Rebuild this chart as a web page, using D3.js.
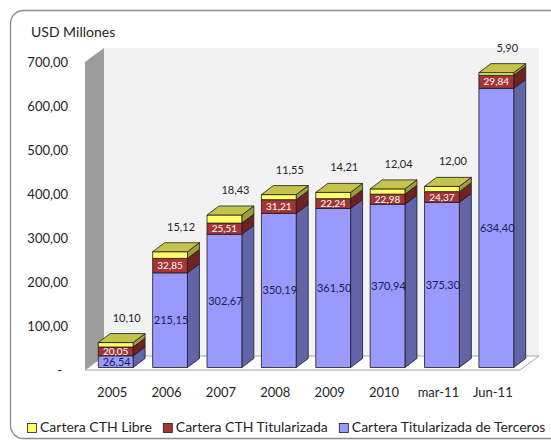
<!DOCTYPE html>
<html>
<head>
<meta charset="utf-8">
<script src="https://cdn.jsdelivr.net/npm/d3@7"></script>
<style>
  body { margin: 0; background: #fff; }
  text { font-family: Lato, "Open Sans", sans-serif; fill: #262626; }
</style>
</head>
<body>
<div id="chart"></div>
<script>
var categories = ["2005", "2006", "2007", "2008", "2009", "2010", "mar-11", "Jun-11"];
var terceros = [26.54, 215.15, 302.67, 350.19, 361.50, 370.94, 375.30, 634.40];
var titularizada = [20.05, 32.85, 25.51, 31.21, 22.24, 22.98, 24.37, 29.84];
var libre = [10.10, 15.12, 18.43, 11.55, 14.21, 12.04, 12.00, 5.90];
var yTicks = [0, 100, 200, 300, 400, 500, 600, 700];
var seriesNames = ["Cartera CTH Libre", "Cartera CTH Titularizada", "Cartera Titularizada de Terceros"];

function main() {
    var width = 551,
      height = 440;

    // 3d look: floor depth and bar depth
    var D = {x: 19, y: -14},
      d = {x: 12, y: -9},
      off = {x: (D.x - d.x) / 2, y: (D.y - d.y) / 2};

    var locale = d3.formatLocale({decimal: ",", thousands: ".", grouping: [3], currency: ["", ""]});
    var fmt = locale.format(".2f");

    var x = d3.scaleBand().domain(categories).range([85, 520]).paddingInner(0.36).paddingOuter(0.18);
    var y = d3.scaleLinear().domain([0, 700]).range([370, 62]);

    var svg = d3.select("#chart").append("svg").attr("width", width).attr("height", height);

    // outer frame
    svg.append("rect").attr("x", 10.5).attr("y", 10.5).attr("width", 580).attr("height", 428)
      .attr("rx", 13).attr("fill", "#fff").attr("stroke", "#8c8c8c").attr("stroke-width", 1.3);

    svg.append("text").attr("x", 31).attr("y", 37).attr("font-size", 14).text("USD Millones");

    // walls
    var y0 = y(0), yTop = y(700), xl = x.range()[0], xr = x.range()[1];
    svg.append("rect").attr("x", xl + D.x).attr("y", yTop + D.y).attr("width", xr - xl)
      .attr("height", y0 - yTop).attr("fill", "#f2f2f2");
    svg.append("path").attr("fill", "#9c9c9c")
      .attr("d", "M" + xl + "," + y0 + "L" + xl + "," + yTop + "L" + (xl + D.x) + "," + (yTop + D.y) +
        "L" + (xl + D.x) + "," + (y0 + D.y) + "Z");
    svg.append("path").attr("fill", "#fff").attr("stroke", "#a6a6a6").attr("stroke-width", 1)
      .attr("d", "M" + xl + "," + y0 + "L" + (xl + D.x) + "," + (y0 + D.y) + "L" + (xr + D.x) + "," + (y0 + D.y) +
        "L" + xr + "," + y0 + "Z");

    // axes
    var yAxis = svg.append("g").attr("transform", "translate(" + xl + ",0)")
      .call(d3.axisLeft(y).tickValues(yTicks).tickSize(0).tickPadding(17)
        .tickFormat(function(v) { return v === 0 ? "-" : fmt(v); }));
    yAxis.select(".domain").remove();
    yAxis.selectAll("text").attr("font-size", 13).attr("font-family", null).attr("fill", "#262626")
      .attr("dx", function(v) { return v === 0 ? -6 : 0; });

    var xAxis = svg.append("g").attr("transform", "translate(0," + y0 + ")")
      .call(d3.axisBottom(x).tickSize(0).tickPadding(18));
    xAxis.select(".domain").remove();
    xAxis.selectAll("text").attr("font-size", 13).attr("font-family", null).attr("fill", "#262626");

    // stacked data
    var rows = categories.map(function(c, i) {
        return {cat: c, terceros: terceros[i], titularizada: titularizada[i], libre: libre[i]};
    });
    var stack = d3.stack().keys(["terceros", "titularizada", "libre"])(rows);

    var colors = {
        terceros: {front: "#9999ff", side: "#6363a8", top: "#7a7ad0"},
        titularizada: {front: "#a33535", side: "#6e2222", top: "#862a2a"},
        libre: {front: "#ffff66", side: "#9e9e3a", top: "#c4c44c"}
    };

    var bw = x.bandwidth();
    var gBars = svg.append("g").attr("class", "bars");

    categories.forEach(function(c, i) {
        var bx = x(c) + off.x;
        stack.forEach(function(s, k) {
            var seg = s[i], col = colors[s.key];
            var yb = y(seg[0]) + off.y, yt = y(seg[1]) + off.y;
            var g = gBars.append("g").attr("stroke", "#1a1a1a").attr("stroke-width", 0.8).attr("stroke-linejoin", "round");
            g.append("path").attr("fill", col.side)
              .attr("d", "M" + (bx + bw) + "," + yb + "L" + (bx + bw + d.x) + "," + (yb + d.y) +
                "L" + (bx + bw + d.x) + "," + (yt + d.y) + "L" + (bx + bw) + "," + yt + "Z");
            g.append("rect").attr("fill", col.front).attr("x", bx).attr("y", yt).attr("width", bw).attr("height", yb - yt);
            if (k === stack.length - 1) {
                g.append("path").attr("fill", col.top)
                  .attr("d", "M" + bx + "," + yt + "L" + (bx + d.x) + "," + (yt + d.y) +
                    "L" + (bx + bw + d.x) + "," + (yt + d.y) + "L" + (bx + bw) + "," + yt + "Z");
            }
        });
    });

    // data labels
    var gLab = svg.append("g").attr("class", "labels").attr("text-anchor", "middle");
    categories.forEach(function(c, i) {
        var cx = x(c) + off.x + bw / 2;
        var a = stack[0][i], b = stack[1][i], t = stack[2][i];
        gLab.append("text").attr("x", cx + 1).attr("y", (y(a[0]) + y(a[1])) / 2 + off.y + 4)
          .attr("font-size", 11).style("fill", "#1c1c50").text(fmt(terceros[i]));
        gLab.append("text").attr("x", cx).attr("y", (y(b[0]) + y(b[1])) / 2 + off.y + 3.5)
          .attr("font-size", 10).style("fill", "#fff").text(fmt(titularizada[i]));
        gLab.append("text").attr("x", cx + 11).attr("y", y(t[1]) + off.y - 21)
          .attr("font-size", 11).style("fill", "#262626").text(fmt(libre[i]));
    });

    // legend
    var legColors = [colors.libre.front, colors.titularizada.front, colors.terceros.front];
    var lg = svg.append("g").attr("class", "legend");
    var lx = 27;
    seriesNames.forEach(function(name, i) {
        lg.append("rect").attr("x", lx + 0.5).attr("y", 423.5).attr("width", 9).attr("height", 9)
          .attr("fill", legColors[i]).attr("stroke", "#1a1a1a").attr("stroke-width", 0.8);
        var t = lg.append("text").attr("x", lx + 13).attr("y", 432).attr("font-size", 14).text(name);
        lx += 13 + t.node().getComputedTextLength() + 11;
    });
}

main();
</script>
</body>
</html>
